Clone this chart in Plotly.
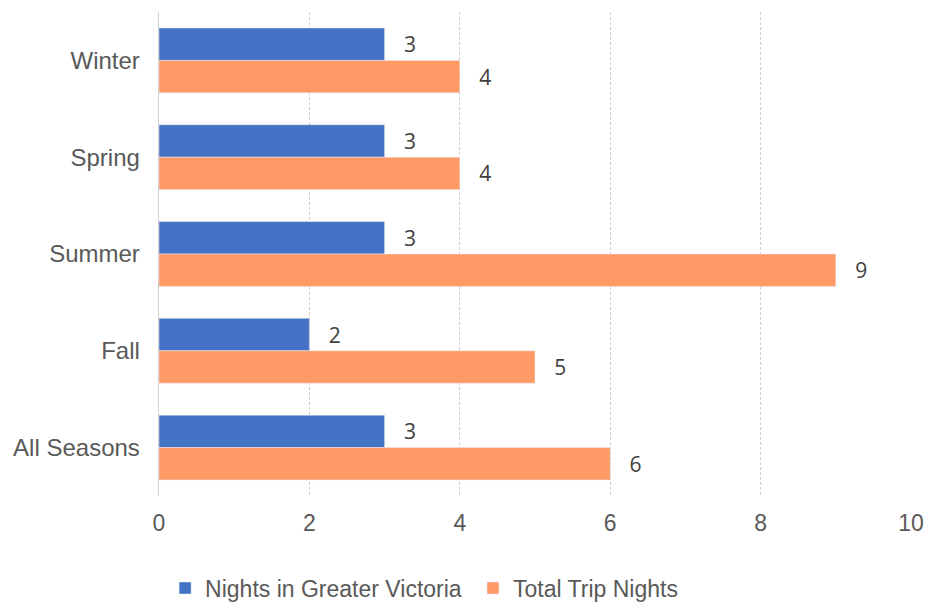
import plotly.graph_objects as go

categories = ["Winter", "Spring", "Summer", "Fall", "All Seasons"]
nights_victoria = [3, 3, 3, 2, 3]
total_trip_nights = [4, 4, 9, 5, 6]
x_ticks = [0, 2, 4, 6, 8, 10]

label_font = dict(family="Open Sans", size=21, color="#404040")

fig = go.Figure()
fig.add_trace(go.Bar(
    y=categories, x=nights_victoria, orientation="h",
    name="Nights in Greater Victoria\u00a0", marker_color="#4472C4",
    text=nights_victoria, texttemplate="\u00a0\u00a0\u00a0%{x}", textposition="outside",
    textfont=label_font, cliponaxis=False,
))
fig.add_trace(go.Bar(
    y=categories, x=total_trip_nights, orientation="h",
    name="Total Trip Nights", marker_color="#FF9966",
    text=total_trip_nights, texttemplate="\u00a0\u00a0\u00a0%{x}", textposition="outside",
    textfont=label_font, cliponaxis=False,
))

fig.update_layout(
    width=926, height=605,
    margin=dict(l=159, r=15, t=12, b=109, autoexpand=False),
    barmode="group", bargap=0.33, bargroupgap=0,
    plot_bgcolor="white", paper_bgcolor="white",
    font=dict(family="Liberation Sans, Arial", size=23, color="#595959"),
    legend=dict(orientation="h", xref="container", yref="container",
                x=0.458, xanchor="center", y=0.028, yanchor="middle",
                font=dict(size=23, color="#595959"),
                traceorder="normal"),
    xaxis=dict(range=[0, 10], tickvals=x_ticks, showgrid=True, gridcolor="#CFCFCF",
               griddash="3px,2px", gridwidth=1, zeroline=False, showline=False,
               ticks="", ticklabelstandoff=11, automargin=False,
               tickfont=dict(size=23, color="#595959")),
    yaxis=dict(autorange="reversed", showline=True, linecolor="#D0D0D0", linewidth=1,
               ticks="", ticksuffix="  ", automargin=False,
               tickfont=dict(size=24, color="#595959")),
)

fig.write_html("out.html")
